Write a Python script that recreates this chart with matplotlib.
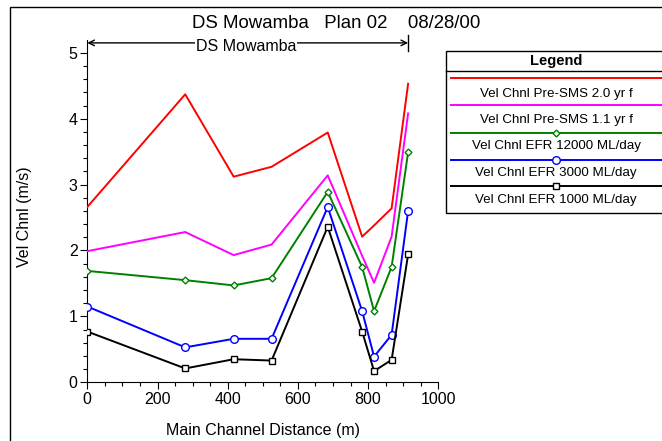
import matplotlib
matplotlib.use("Agg")
import matplotlib.pyplot as plt
from matplotlib.lines import Line2D
from matplotlib.patches import Rectangle

plt.rcParams['font.family'] = ['Liberation Sans', 'DejaVu Sans']

distance = [0, 279, 417, 525, 685, 783, 817, 867, 914]
pre_sms_20 = [2.66, 4.37, 3.12, 3.27, 3.79, 2.21, 2.38, 2.64, 4.53]
pre_sms_11 = [1.99, 2.28, 1.93, 2.09, 3.14, 1.92, 1.51, 2.21, 4.08]
efr_12000 = [1.69, 1.55, 1.47, 1.58, 2.89, 1.75, 1.08, 1.75, 3.49]
efr_3000 = [1.15, 0.53, 0.66, 0.66, 2.66, 1.08, 0.39, 0.72, 2.60]
efr_1000 = [0.77, 0.21, 0.35, 0.33, 2.36, 0.77, 0.17, 0.34, 1.94]

labels = ["Vel Chnl Pre-SMS 2.0 yr f", "Vel Chnl Pre-SMS 1.1 yr f",
          "Vel Chnl EFR 12000 ML/day", "Vel Chnl EFR 3000 ML/day",
          "Vel Chnl EFR 1000 ML/day"]
colors = ["#ff0000", "#ff00ff", "#008000", "#0000ff", "#000000"]
markers = [None, None, "D", "o", "s"]
msizes = [0, 0, 3.5, 5.5, 4.5]
series = [pre_sms_20, pre_sms_11, efr_12000, efr_3000, efr_1000]

W, H = 662, 441
fig = plt.figure(figsize=(W / 100, H / 100), dpi=100)
ax = fig.add_axes([87.3 / W, 1 - 382.3 / H, (438.3 - 87.3) / W, (382.3 - 39.6) / H])

for ys, c, m, ms in zip(series, colors, markers, msizes):
    ax.plot(distance, ys, color=c, lw=1.4, marker=m, ms=ms,
            markerfacecolor="white" if m else None, markeredgecolor=c,
            markeredgewidth=1.0, zorder=3)

ax.set_xlim(0, 1000)
ax.set_ylim(0, 5.2)
ax.set_xticks([0, 200, 400, 600, 800, 1000])
ax.set_xticks(range(0, 1001, 50), minor=True)
ax.set_yticks([0, 1, 2, 3, 4, 5])
ax.set_yticks([i * 0.2 for i in range(26)], minor=True)
for s in ("top", "right"):
    ax.spines[s].set_visible(False)
ax.tick_params(axis="both", which="major", direction="out", length=5, width=0.8,
               labelsize=11.5, pad=2)
ax.tick_params(axis="both", which="minor", direction="out", length=3, width=0.8)

fig.text(263 / W, 1 - 430 / H, "Main Channel Distance (m)", ha="center",
         va="center", fontsize=11.5)
fig.text(25 / W, 1 - 217 / H, "Vel Chnl (m/s)", ha="center", va="center",
         rotation=90, fontsize=11.5)

# reach annotation
ax.annotate("", xy=(0, 5.15), xytext=(distance[-1], 5.15),
            arrowprops=dict(arrowstyle="<->", color="black", lw=1.0,
                            shrinkA=0, shrinkB=0), annotation_clip=False)
ax.plot([distance[-1], distance[-1]], [5.03, 5.27], color="black", lw=1.0,
        clip_on=False)
ax.text(452, 5.10, "DS Mowamba", ha="center", va="center", fontsize=11.5,
        bbox=dict(facecolor="white", edgecolor="none", pad=0.3), clip_on=False,
        zorder=5)

fig.text(192 / W, 1 - 24 / H, "DS Mowamba   Plan 02    08/28/00",
         ha="left", va="center", fontsize=13.4)

# figure border
fig.patches.append(Rectangle((10 / W, -0.1), 1.2, 1.1 - 7 / H,
                             transform=fig.transFigure, fill=False,
                             edgecolor="black", lw=1.0))

# legend box
lx0, lx1 = 446, 668
fig.patches.append(Rectangle((lx0 / W, 1 - 212.7 / H), (lx1 - lx0) / W,
                             (212.7 - 51) / H, transform=fig.transFigure,
                             fill=False, edgecolor="black", lw=1.0))
fig.lines.append(Line2D([lx0 / W, lx1 / W], [1 - 71 / H, 1 - 71 / H],
                        transform=fig.transFigure, color="black", lw=1.0))
fig.text(556 / W, 1 - 61 / H, "Legend", ha="center", va="center",
         fontsize=10.5, fontweight="bold")
line_y = [78.3, 105.3, 132.7, 160, 186]
text_y = [94, 119.5, 145.7, 172.7, 200]
for ly, ty, lab, c, m, ms in zip(line_y, text_y, labels, colors, markers, msizes):
    fig.lines.append(Line2D([451 / W, 662 / W], [1 - ly / H, 1 - ly / H],
                            transform=fig.transFigure, color=c, lw=1.4))
    if m:
        fig.lines.append(Line2D([555.7 / W], [1 - ly / H], transform=fig.transFigure,
                                color=c, marker=m, ms=ms, markerfacecolor="white",
                                markeredgecolor=c, markeredgewidth=1.0, lw=0))
    fig.text(556 / W, 1 - ty / H, lab, ha="center", va="center", fontsize=9.6)

fig.savefig("out.png", dpi=100)
